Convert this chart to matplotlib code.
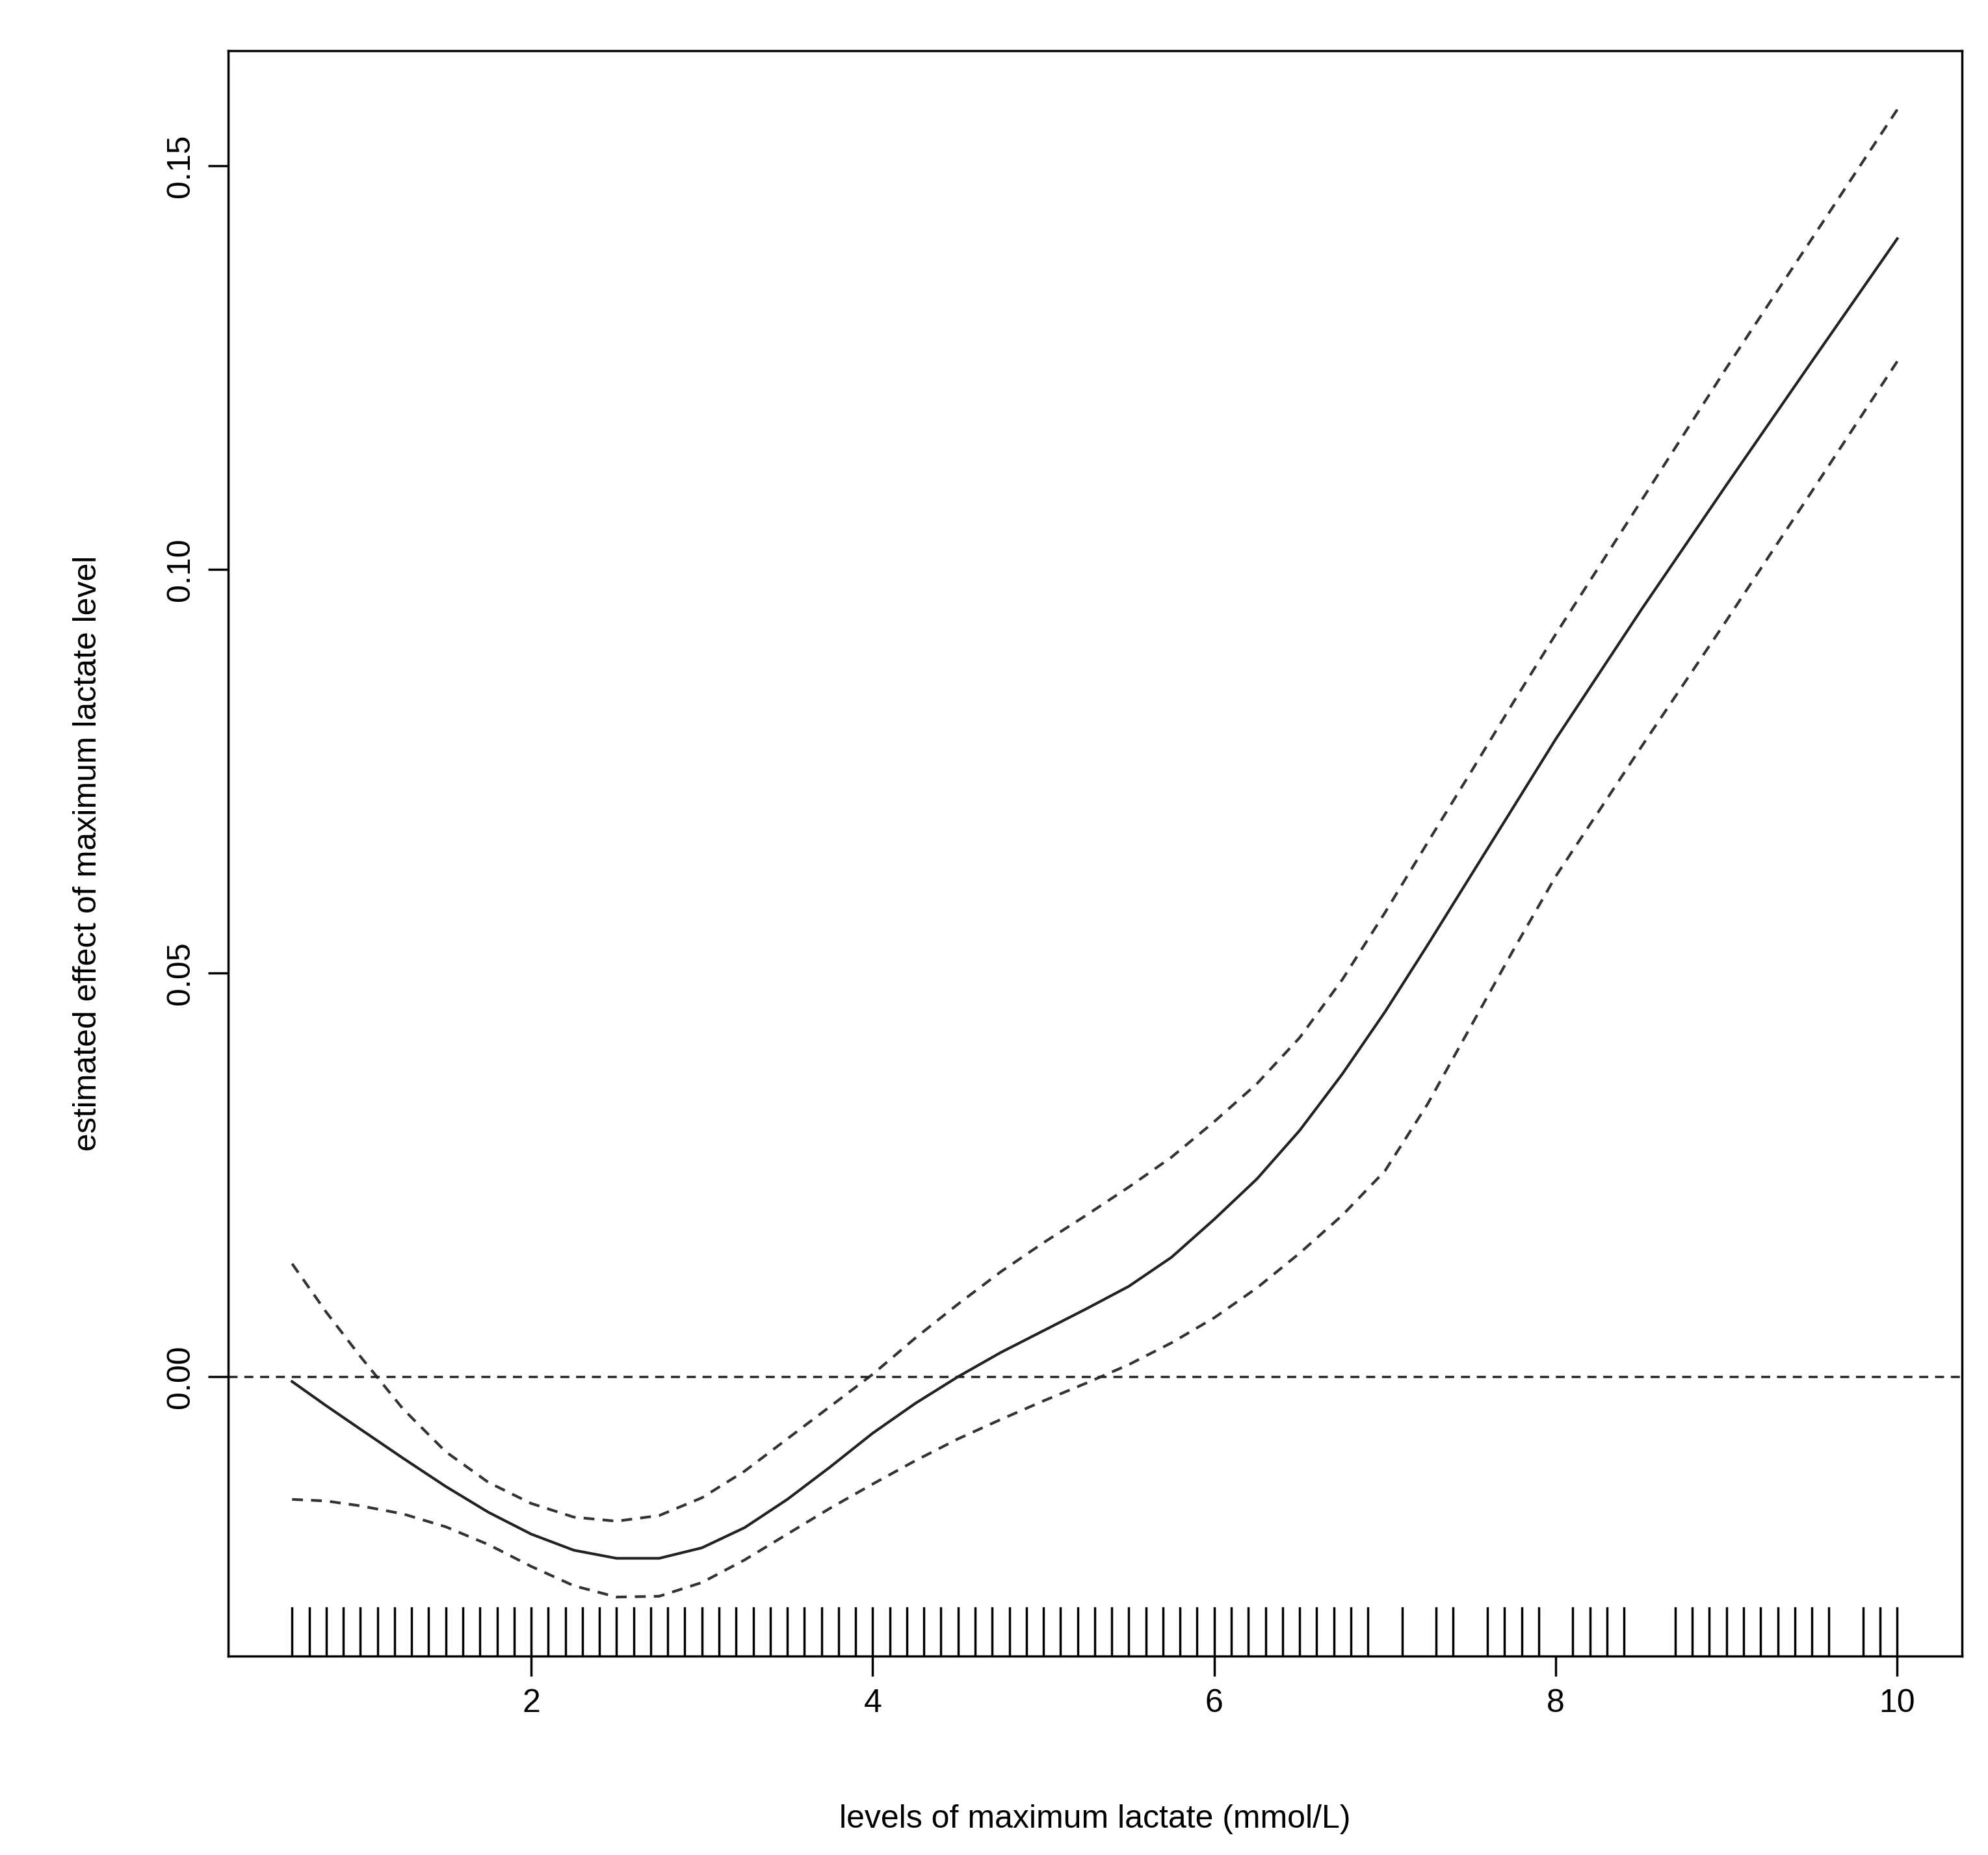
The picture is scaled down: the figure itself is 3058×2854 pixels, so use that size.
import numpy as np
import matplotlib
matplotlib.use("Agg")
import matplotlib.pyplot as plt

plt.rcParams['font.family'] = ['Liberation Sans', 'DejaVu Sans']

fit_x = [0.6, 0.8, 1.0, 1.25, 1.5, 1.75, 2.0, 2.25, 2.5, 2.75, 3.0, 3.25, 3.5, 3.75, 4.0, 4.25, 4.5, 4.75,
         5.0, 5.25, 5.5, 5.75, 6.0, 6.25, 6.5, 6.75, 7.0, 7.25, 7.5, 7.75, 8.0, 8.5, 9.0, 9.5, 10.0]
fit_y = [-0.0006, -0.0036, -0.0065, -0.0101, -0.0136, -0.0168, -0.0195, -0.0215, -0.0225, -0.0225, -0.0212,
         -0.0187, -0.0152, -0.0112, -0.0070, -0.0033, 0.0000, 0.0030, 0.0057, 0.0084, 0.0112, 0.0148,
         0.0195, 0.0245, 0.0305, 0.0375, 0.0452, 0.0535, 0.0620, 0.0705, 0.0790, 0.0950, 0.1105, 0.1258, 0.1410]
up_y = [0.0140, 0.0080, 0.0025, -0.0040, -0.0093, -0.0131, -0.0157, -0.0174, -0.0179, -0.0172, -0.0150,
        -0.0117, -0.0077, -0.0037, 0.0003, 0.0048, 0.0090, 0.0130, 0.0166, 0.0200, 0.0235, 0.0272,
        0.0316, 0.0363, 0.0420, 0.0492, 0.0575, 0.0662, 0.0748, 0.0835, 0.0920, 0.1085, 0.1250, 0.1410, 0.1570]
lo_y = [-0.0152, -0.0154, -0.0160, -0.0170, -0.0186, -0.0208, -0.0235, -0.0259, -0.0273, -0.0272, -0.0255,
        -0.0227, -0.0195, -0.0163, -0.0133, -0.0104, -0.0077, -0.0053, -0.0030, -0.0008, 0.0015, 0.0042,
        0.0073, 0.0110, 0.0153, 0.0200, 0.0255, 0.0338, 0.0433, 0.0528, 0.0620, 0.0780, 0.0937, 0.1097, 0.1258]
rug_x = [round(0.6 + 0.1 * i, 1) for i in range(64)] + [
    7.1, 7.3, 7.4, 7.6, 7.7, 7.8, 7.9, 8.1, 8.2, 8.3, 8.4, 8.7, 8.8, 8.9,
    9.0, 9.1, 9.2, 9.3, 9.4, 9.5, 9.6, 9.8, 9.9, 10.0]
x_ticks = [2, 4, 6, 8, 10]
y_ticks = [0.00, 0.05, 0.10, 0.15]

fig = plt.figure(figsize=(30.58, 28.54), dpi=100)
ax = fig.add_axes([0.1148, 0.1073, 0.8722, 0.8654])
ax.plot(fit_x, fit_y, color='#222222', lw=3, solid_joinstyle='round')
ax.plot(fit_x, up_y, color='#333333', lw=3, ls=(0, (4, 3)))
ax.plot(fit_x, lo_y, color='#333333', lw=3, ls=(0, (4, 3)))
ax.axhline(0, color='#222222', lw=2.5, ls=(0, (4, 3)))
for rx in rug_x:
    ax.axvline(rx, ymin=0, ymax=0.03, color='black', lw=2.5)
ax.set_xlim(0.226, 10.38)
ax.set_ylim(-0.0346, 0.1643)
ax.set_xticks(x_ticks)
ax.set_xticklabels([str(t) for t in x_ticks])
ax.set_yticks(y_ticks)
ax.set_yticklabels(['%.2f' % t for t in y_ticks], rotation=90, va='center')
ax.tick_params(axis='both', labelsize=36, length=22, width=2.5, pad=14)
for s in ax.spines.values():
    s.set_linewidth(2.5)
ax.set_xlabel('levels of maximum lactate (mmol/L)', fontsize=36, labelpad=95)
ax.set_ylabel('estimated effect of maximum lactate level', fontsize=36, labelpad=70)
fig.savefig('out.png', dpi=100)
